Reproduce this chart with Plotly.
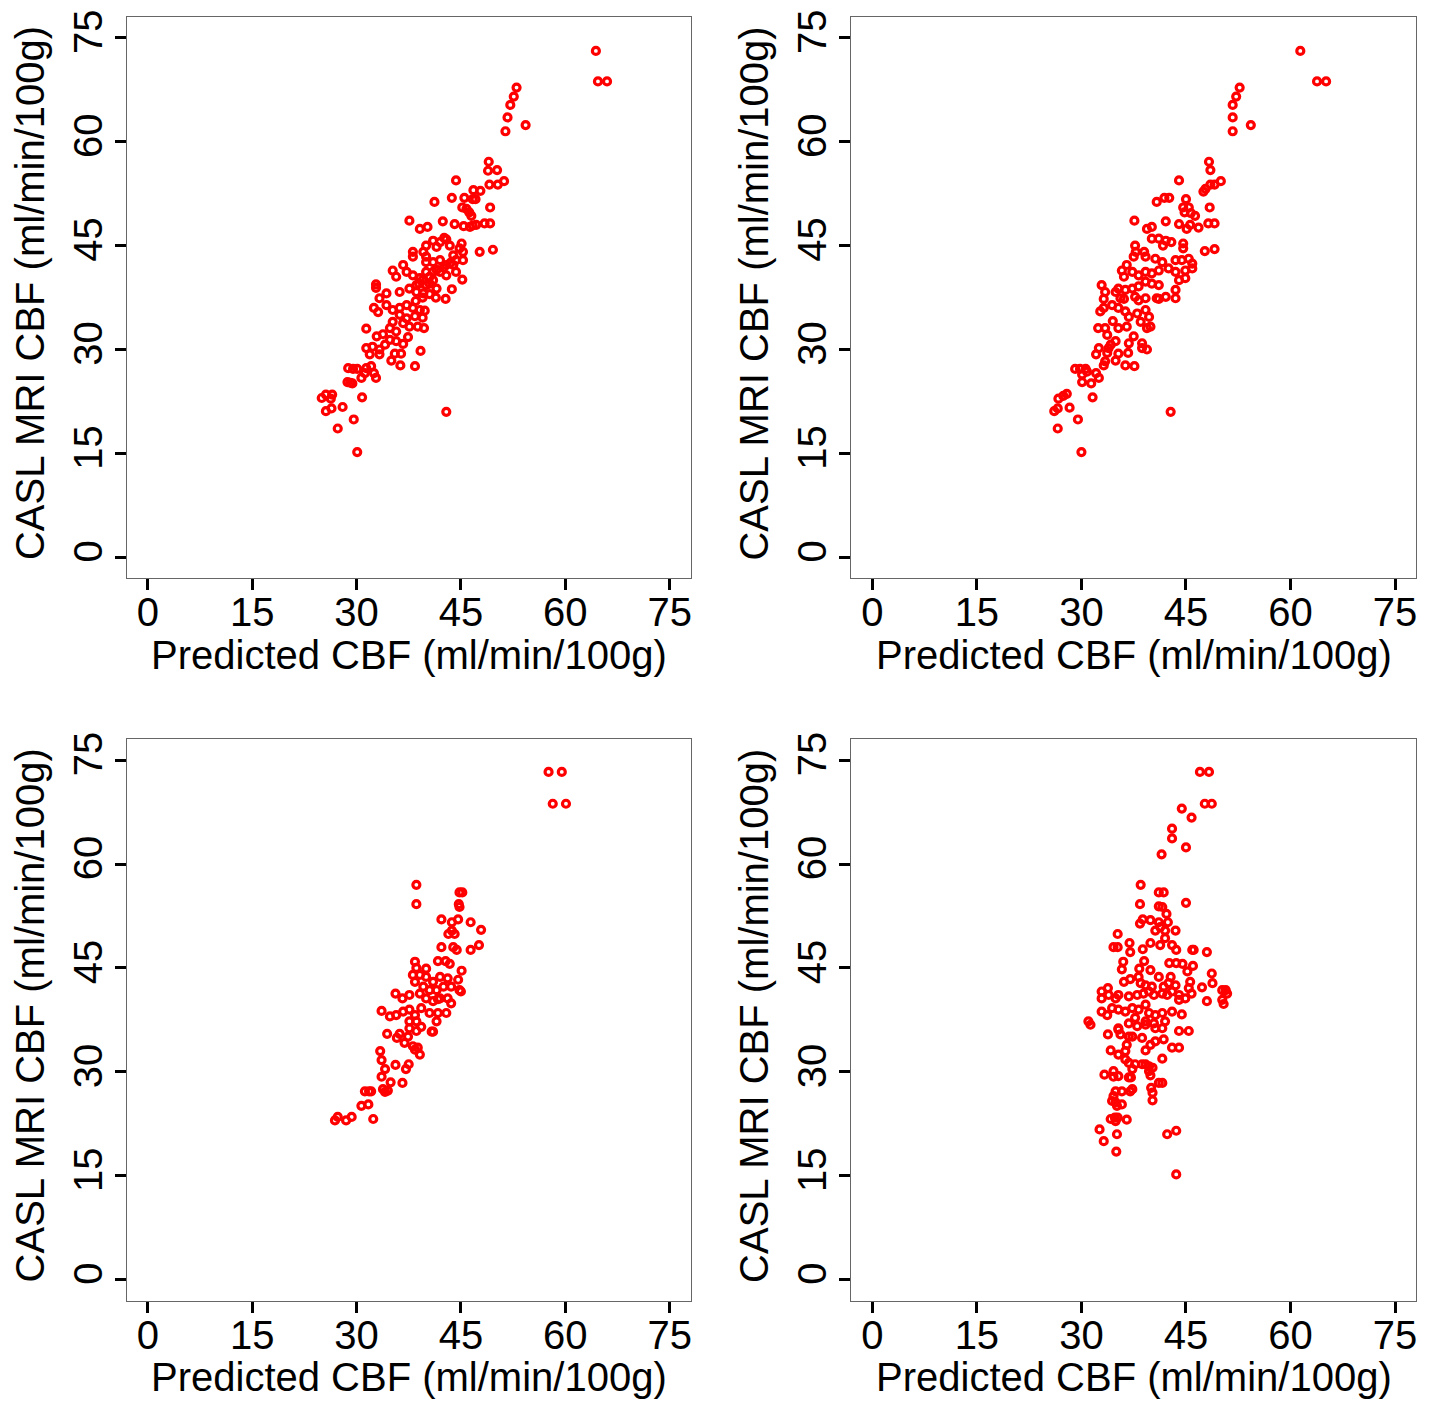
import plotly.graph_objects as go

# ---------------- data (ml/min/100g) ----------------
p1_x = [64.4, 64.7, 66.0, 53.0, 52.6, 52.1, 51.7, 51.4, 54.3,
        49.0, 48.9, 50.2, 44.3, 49.1, 50.3, 51.2, 41.2, 43.7, 45.5, 46.8, 47.8, 46.7, 47.1, 45.2, 45.8, 46.2, 46.5, 49.2,
        37.6, 39.1, 40.2, 42.4, 44.1, 45.4, 46.3, 46.7, 47.2, 48.4, 49.2, 47.7, 49.6,
        42.6, 42.9, 42.0, 41.0, 40.0, 39.6, 38.1, 38.1, 40.0, 41.5, 43.4, 45.1, 44.8, 45.3, 43.9, 44.3, 45.3, 42.0, 41.0,
        40.0, 42.9, 43.9, 36.7, 35.2, 35.7, 37.2, 38.1, 39.1, 40.0, 41.0, 42.0, 42.9, 44.3, 45.2, 43.7, 42.8, 41.5, 40.0,
        38.6, 37.6, 36.2, 34.3, 33.3, 32.8, 32.8, 38.6, 39.6,
        39.5, 40.5, 41.5, 40.5, 39.0, 41.0, 42.5, 43.5, 38.5, 39.5, 40.5,
        41.4, 32.5, 33.1, 34.3, 35.2, 36.2, 37.2, 38.1, 39.1, 39.8, 36.2, 37.2, 38.4, 39.5, 35.2, 36.7, 37.6, 38.8, 39.7,
        31.4, 34.8, 35.7, 32.9, 33.8, 37.4, 34.8, 35.7, 36.7, 34.1, 31.4, 32.3, 33.3, 39.2, 31.9, 33.3, 35.5, 36.4, 35.0,
        36.3, 38.4, 28.8, 29.5, 30.1, 31.4, 32.1, 32.5, 31.2, 30.7, 32.8, 28.7, 29.1, 29.4, 25.0, 25.6, 26.5, 26.3, 30.8,
        25.6, 26.4, 28.0, 29.6, 27.3, 30.1, 42.9]
p1_y = [73.1, 68.7, 68.7, 67.8, 66.5, 65.3, 63.5, 61.5, 62.4,
        57.1, 55.8, 55.9, 54.4, 53.8, 53.8, 54.3, 51.3, 51.9, 51.9, 53.0, 52.9, 51.7, 51.7, 50.5, 50.3, 49.8, 49.3, 50.5,
        48.6, 47.4, 47.7, 48.5, 48.1, 47.8, 47.7, 47.9, 48.0, 48.2, 48.2, 44.1, 44.4,
        46.1, 45.9, 45.5, 45.7, 45.0, 44.1, 44.1, 43.4, 43.4, 44.8, 45.0, 45.3, 44.6, 44.1, 43.6, 42.9, 42.9, 42.9, 42.6,
        42.6, 42.2, 42.2, 42.2, 41.4, 40.5, 41.2, 40.7, 40.3, 41.2, 41.2, 41.2, 40.7, 41.2, 40.1, 38.7, 37.3, 38.8, 39.3,
        39.3, 38.8, 38.3, 38.1, 37.4, 39.4, 38.9, 38.3, 38.1,
        40.0, 40.5, 41.5, 39.5, 39.5, 40.0, 41.8, 42.5, 37.0, 37.5, 38.0,
        37.5, 36.0, 35.4, 36.4, 35.7, 36.0, 36.4, 36.0, 35.7, 35.6, 35.0, 34.5, 34.8, 34.6, 34.0, 33.8, 33.3, 33.3, 33.1,
        33.0, 33.1, 32.6, 31.9, 32.2, 31.8, 31.4, 31.2, 30.8, 30.7, 30.2, 30.4, 30.0, 29.8, 29.3, 29.3, 29.4, 29.4, 28.4,
        27.7, 27.6, 27.3, 27.2, 27.2, 27.3, 27.6, 26.6, 26.6, 25.9, 25.9, 25.3, 25.2, 25.1, 23.0, 23.5, 23.5, 22.9, 23.1,
        21.1, 21.5, 21.7, 19.9, 18.6, 15.2, 21.0]

p2_x = [61.4, 63.8, 65.1, 52.7, 52.2, 51.7, 51.7, 51.7, 54.3,
        48.3, 48.5, 44.0, 47.5, 47.8, 48.5, 49.1, 50.0, 40.8, 41.9, 42.6, 45.0, 44.6, 45.4, 44.8, 45.7, 46.3, 48.4,
        37.6, 39.4, 40.1, 42.1, 44.0, 45.1, 45.6, 46.8, 48.2, 49.1, 47.7, 49.1,
        40.1, 41.1, 42.1, 42.9, 41.7, 44.6, 44.6, 37.7, 37.8, 37.5, 39.0, 39.2, 40.6, 41.6, 43.5, 44.4, 45.4, 45.9,
        36.5, 35.8, 36.1, 37.3, 38.2, 39.2, 40.1, 41.1, 42.5, 43.5, 44.9, 45.9, 44.9, 44.0, 43.5, 42.1, 43.5, 41.1,
        40.1, 39.2, 38.2, 37.3, 36.3, 35.3, 34.9, 32.9, 33.4, 33.2, 35.6, 37.7, 39.2, 40.8,
        36.1, 38.2, 41.1, 32.7, 33.2, 34.4, 35.3, 36.3, 36.8, 38.0, 39.2, 39.7, 38.5, 39.9, 39.4, 32.4, 33.4, 34.5,
        35.3, 36.5, 33.7, 34.9, 34.2, 36.8, 37.5, 38.7, 39.4, 38.7, 32.5, 32.1, 33.7, 33.9, 35.3, 36.7, 34.9, 36.3,
        37.6, 33.2, 33.4, 29.1, 29.8, 30.6, 30.8, 30.1, 30.1, 31.4, 32.1, 32.5, 27.9, 27.4, 26.7, 26.6, 26.1, 28.3,
        31.6, 29.5, 26.6, 30.0, 42.8]
p2_y = [73.1, 68.7, 68.7, 67.8, 66.5, 65.3, 63.5, 61.5, 62.4,
        57.1, 55.9, 54.4, 52.8, 53.2, 53.8, 53.8, 54.3, 51.3, 51.9, 51.9, 51.7, 50.5, 50.5, 49.8, 49.7, 49.3, 50.5,
        48.6, 47.4, 47.7, 48.5, 48.1, 47.4, 48.0, 47.6, 48.2, 48.2, 44.2, 44.5,
        46.0, 46.0, 45.7, 45.5, 45.0, 45.3, 44.6, 45.0, 44.1, 43.4, 44.1, 43.4, 43.1, 42.6, 42.9, 42.9, 43.1, 42.4,
        42.2, 41.4, 40.5, 41.2, 40.7, 41.2, 41.0, 41.4, 41.7, 41.2, 41.4, 41.7, 40.3, 40.0, 38.6, 37.6, 37.4, 39.3,
        39.5, 39.8, 39.1, 38.8, 38.6, 38.8, 38.3, 39.3, 38.3, 37.3, 37.4, 37.6, 37.4, 37.4,
        37.3, 37.1, 37.3, 35.5, 36.0, 36.4, 36.0, 35.5, 34.7, 35.2, 35.7, 34.7, 34.0, 33.3, 33.1, 33.1, 33.1, 34.1,
        33.1, 33.3, 32.1, 31.2, 30.7, 30.9, 31.9, 30.9, 30.0, 30.2, 30.2, 29.3, 29.5, 30.2, 29.4, 29.5, 28.4, 27.7,
        27.6, 27.7, 28.3, 27.2, 27.2, 27.2, 26.8, 26.4, 25.3, 25.1, 26.6, 25.9, 23.6, 23.3, 22.9, 21.5, 21.1, 21.6,
        23.1, 19.9, 18.6, 15.2, 21.0]

p3_x = [38.6, 38.6, 44.8, 45.2, 44.7, 44.8, 42.2, 43.7, 44.6, 46.4, 47.9, 43.2, 44.1, 43.7, 42.2, 43.9, 44.4, 46.4,
        47.6, 41.7, 42.8, 43.4, 38.4, 38.6, 40.0, 45.1, 38.1, 39.1, 40.0, 42.0, 43.1, 44.6, 41.0, 38.4, 39.6, 40.5,
        41.5, 42.5, 43.6, 44.8, 45.0, 35.6, 36.6, 37.6, 39.1, 40.0, 41.0, 42.0, 43.1, 43.6, 41.7, 33.6, 34.8, 35.7,
        36.7, 37.6, 38.4, 39.3, 40.5, 41.7, 42.9, 37.6, 38.6, 39.3, 41.5, 37.6, 38.6, 34.4, 36.2, 35.8, 37.4, 36.9,
        40.8, 41.0, 38.1, 39.1, 38.4, 38.8, 33.4, 33.6, 34.1, 33.6, 35.6, 37.1, 37.5, 34.9, 36.6, 31.2, 31.8, 32.1,
        33.8, 34.1, 34.5, 30.7, 31.7, 26.9, 27.3, 28.5, 29.3, 32.4, 57.6, 59.5, 58.2, 60.1]
p3_y = [57.0, 54.2, 55.9, 55.9, 54.2, 53.8, 52.0, 51.6, 52.0, 51.6, 50.5, 49.9, 49.9, 50.4, 48.0, 48.0, 47.6, 47.6,
        48.3, 46.0, 46.0, 45.6, 45.9, 45.0, 44.9, 44.6, 44.0, 44.0, 43.7, 43.7, 43.5, 43.3, 43.0, 43.0, 42.3, 41.8,
        41.8, 42.3, 42.3, 41.8, 41.6, 41.3, 40.6, 41.1, 41.3, 40.6, 40.2, 40.6, 40.6, 39.9, 40.5, 38.8, 38.0, 38.2,
        38.7, 39.0, 38.2, 39.2, 38.5, 38.5, 38.5, 37.3, 37.3, 36.5, 37.3, 36.3, 35.9, 35.5, 35.5, 34.9, 35.1, 34.2,
        35.8, 35.8, 33.7, 32.5, 33.2, 33.5, 33.0, 31.7, 30.4, 29.3, 31.0, 30.4, 31.1, 28.5, 28.4, 27.2, 27.2, 27.2,
        27.5, 27.1, 27.3, 25.1, 25.3, 23.0, 23.5, 23.0, 23.5, 23.2, 73.3, 73.3, 68.7, 68.7]

p4_x = [47.0, 48.3, 47.7, 48.7, 44.4, 45.8, 43.0, 43.0, 45.0, 41.5,
        38.5, 41.1, 41.8, 38.4, 41.1, 41.6, 45.0, 42.2, 38.4, 38.8, 39.9, 41.1, 41.3, 42.4, 40.6, 42.0, 43.5, 42.0,
        35.2, 34.6, 35.2, 36.9, 37.0, 38.8, 39.9, 41.3, 43.0, 43.6, 45.9, 46.1, 48.0,
        36.0, 35.8, 39.0, 38.3, 39.9, 42.6, 43.6, 44.5, 46.0, 45.2,
        48.7, 48.8, 41.1, 42.8, 36.1, 37.0, 38.2, 38.5, 39.2, 40.1, 41.8, 42.5, 43.5, 45.6, 45.4, 47.3,
        50.2, 50.7, 50.9, 50.2, 50.4, 48.0,
        32.9, 33.8, 32.9, 33.9, 34.9, 35.3, 36.8, 38.0, 38.9, 39.7, 40.4, 41.6, 42.3, 43.0, 44.0, 44.0, 44.9, 45.8,
        32.9, 33.7, 34.4, 35.3, 36.3, 37.3, 38.2, 39.2, 39.7, 40.6, 41.6, 43.0, 44.4, 37.7, 39.2, 40.4, 42.0, 31.0,
        31.3, 36.8, 35.3,
        33.8, 35.3, 35.6, 36.8, 37.3, 38.7, 38.0, 39.2, 40.6, 41.6, 41.8, 44.0, 45.4,
        34.2, 35.3, 36.3, 36.5, 39.2, 39.9, 40.6, 43.0, 44.0, 41.6,
        36.3, 36.8, 37.7, 38.7, 39.2, 39.7, 40.2, 37.3, 39.7, 39.9,
        33.3, 34.6, 34.6, 35.3, 36.8, 37.1, 41.1, 41.6, 40.0, 40.2, 40.2,
        34.9, 35.8, 37.0, 37.3, 34.6, 34.4, 35.1, 35.8, 34.9,
        34.2, 34.8, 35.2, 34.9, 36.5, 32.6, 33.2, 35.1, 35.0, 42.3, 43.6, 43.6]
p4_y = [73.3, 73.3, 68.7, 68.7, 68.0, 66.7, 65.1, 63.7, 62.4, 61.4,
        57.0, 55.9, 55.9, 54.2, 53.9, 53.8, 54.4, 52.8, 51.4, 52.0, 51.9, 51.6, 50.9, 51.6, 50.4, 50.4, 50.4, 49.3,
        49.9, 48.0, 48.0, 48.6, 47.3, 47.7, 48.6, 48.3, 48.3, 47.6, 47.6, 47.6, 47.3,
        45.9, 44.8, 46.0, 44.9, 44.7, 45.7, 45.7, 45.6, 45.3, 44.5,
        44.2, 42.8, 43.7, 43.7, 43.0, 43.4, 43.7, 42.8, 42.5, 42.3, 42.3, 42.8, 42.5, 43.0, 42.1, 42.2,
        41.8, 41.8, 41.3, 40.4, 39.8, 40.2,
        41.6, 42.1, 40.6, 41.1, 40.6, 41.1, 40.9, 41.1, 41.3, 41.6, 41.1, 41.3, 41.1, 41.6, 41.1, 40.4, 40.6, 41.3,
        38.7, 38.2, 39.2, 39.0, 38.7, 39.2, 39.0, 39.7, 38.5, 38.2, 38.5, 38.7, 38.3, 37.8, 37.3, 37.0, 37.3, 37.3,
        36.8, 37.0, 36.3,
        35.4, 36.1, 35.4, 35.1, 35.1, 34.9, 36.6, 36.8, 36.3, 36.3, 34.7, 35.9, 35.9,
        33.1, 32.5, 33.0, 33.9, 33.1, 33.9, 34.4, 33.5, 33.5, 31.9,
        31.8, 31.3, 31.1, 31.1, 31.1, 30.8, 30.6, 30.4, 30.1, 29.5,
        29.6, 30.1, 29.3, 29.4, 29.2, 29.2, 28.4, 28.4, 27.7, 27.0, 25.9,
        27.2, 27.2, 27.2, 27.5, 26.5, 25.8, 25.1, 25.3, 25.6,
        23.2, 23.4, 23.4, 22.9, 23.1, 21.7, 20.0, 21.0, 18.5, 21.0, 21.5, 15.2]

tick_vals = [0, 15, 30, 45, 60, 75]
tick_text = ["0", "15", "30", "45", "60", "75"]
x_title = "Predicted CBF (ml/min/100g)"
y_title = "CASL MRI CBF (ml/min/100g)"

# ---------------- figure ----------------
W, H = 1436, 1403
FONT = "Liberation Sans, Arial, Helvetica, sans-serif"

panels = [(p1_x, p1_y), (p2_x, p2_y), (p3_x, p3_y), (p4_x, p4_y)]
# box positions in pixels: (left, right, top, bottom)
boxes = [(127, 691, 10, 574), (852, 1417, 10, 574),
         (127, 691, 736, 1300), (852, 1417, 736, 1300)]

fig = go.Figure()
layout = dict(width=W, height=H, margin=dict(l=0, r=0, t=0, b=0),
              paper_bgcolor="white", plot_bgcolor="white", showlegend=False,
              font=dict(family=FONT, color="black", size=40))
annotations = []
for i, ((xs, ys), (l, r, t, b)) in enumerate(zip(panels, boxes)):
    n = "" if i == 0 else str(i + 1)
    fig.add_trace(go.Scatter(
        x=xs, y=ys, mode="markers", xaxis="x" + n, yaxis="y" + n,
        marker=dict(symbol="circle-open", size=7, color="#ff0000",
                    line=dict(width=3.2, color="#ff0000")),
        cliponaxis=False, hoverinfo="skip"))
    axcommon = dict(range=[-3, 78], tickmode="array", tickvals=tick_vals, ticktext=tick_text,
                    ticks="outside", ticklen=11, tickwidth=3, tickcolor="black",
                    showline=True, mirror=True, linecolor="#666666", linewidth=1.3,
                    showgrid=False, zeroline=False, fixedrange=True,
                    tickfont=dict(family=FONT, size=40, color="black"))
    layout["xaxis" + n] = dict(axcommon, domain=[l / W, r / W], anchor="y" + n,
                               ticklabelstandoff=-12)
    layout["yaxis" + n] = dict(axcommon, domain=[1 - b / H, 1 - t / H], anchor="x" + n,
                               tickangle=-90, ticklabelstandoff=-3)
    # axis titles
    annotations.append(dict(text=x_title, xref="paper", yref="paper",
                            x=((l + 23) + (r - 23)) / 2 / W, y=1 - (b + 77) / H,
                            xanchor="center", yanchor="middle", showarrow=False,
                            font=dict(family=FONT, size=40, color="black")))
    annotations.append(dict(text=y_title, xref="paper", yref="paper",
                            x=(l - 97) / W, y=1 - ((t + 5) + (b - 14)) / 2 / H,
                            xanchor="center", yanchor="middle", textangle=-90, showarrow=False,
                            font=dict(family=FONT, size=40, color="black")))
layout["annotations"] = annotations
fig.update_layout(**layout)

fig.write_html("out.html", config={"displayModeBar": False},
               post_script="document.body.style.margin='0';document.body.style.overflow='hidden';")
